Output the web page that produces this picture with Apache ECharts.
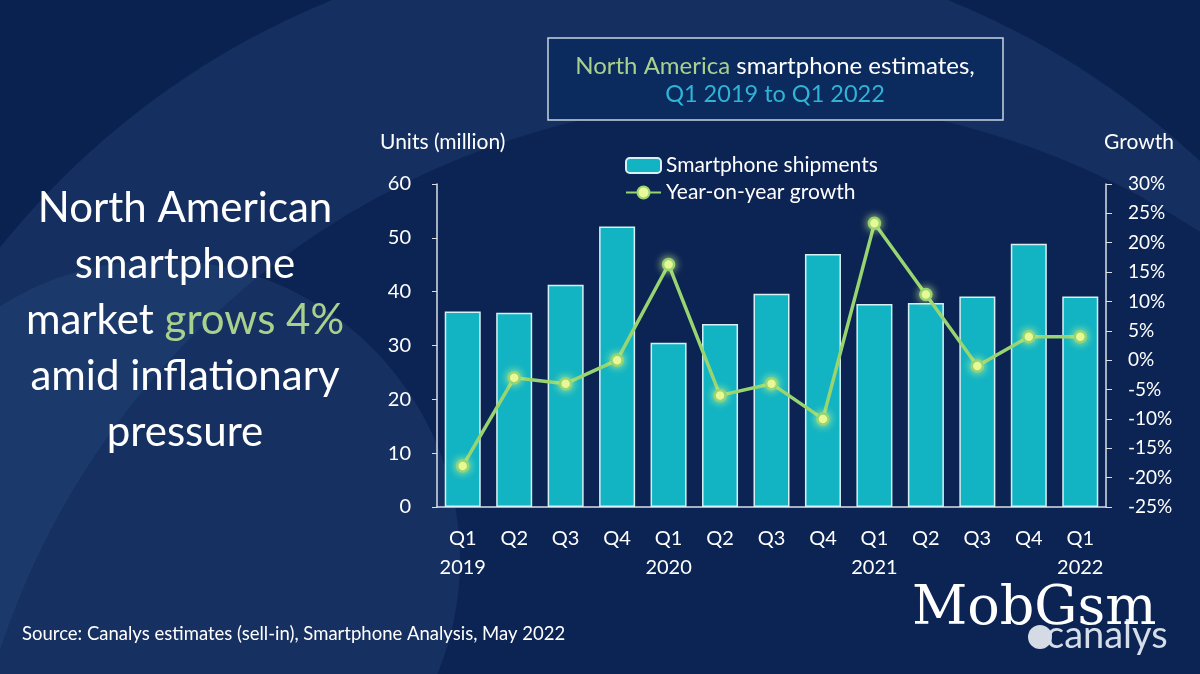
<!DOCTYPE html>
<html><head><meta charset="utf-8">
<script src="https://cdn.jsdelivr.net/npm/echarts@6/dist/echarts.min.js"></script>
<style>html,body{margin:0;padding:0;background:#0a2250;}#c{width:1200px;height:674px;}</style>
</head><body><div id="c"></div>
<script>
var quarters = ['Q1','Q2','Q3','Q4','Q1','Q2','Q3','Q4','Q1','Q2','Q3','Q4','Q1'];
var years    = ['2019','','','','2020','','','','2021','','','','2022'];
var shipments = [36.3, 36.1, 41.3, 52.1, 30.5, 34.0, 39.6, 47.0, 37.7, 37.9, 39.1, 48.9, 39.1];
var growth    = [-18, -3, -4, 0, 16.3, -6, -4, -10, 23.3, 11.2, -1, 4, 4];
var leftTicks = [0, 60, 10];
var rightTicks = [-25, 30, 5];

var FONT = 'Lato, "Open Sans", sans-serif';
var categories = quarters.map(function(q, i){ return years[i] ? q + '\n' + years[i] : q; });

var chart = echarts.init(document.getElementById('c'), null, {renderer: 'canvas'});
chart.setOption({
  backgroundColor: '#0a2250',
  textStyle: {fontFamily: FONT},
  graphic: [
    {type:'circle', z:-10, silent:true, shape:{cx:640, cy:760, r:820}, style:{fill:'rgba(60,100,160,0.20)'}},
    {type:'circle', z:-9, silent:true, shape:{cx:760, cy:900, r:800}, style:{fill:'rgba(10,34,80,0.75)'}},
    {type:'circle', z:-8, silent:true, shape:{cx:160, cy:560, r:300}, style:{fill:'rgba(70,110,170,0.16)'}},
    {type:'rect', z:5, shape:{x:548, y:38, width:455, height:82}, style:{fill:'#0b2a5e', stroke:'#c9d3e0', lineWidth:1.5}},
    {type:'text', z:6, style:{x:775, y:66, text:'{g|North America}{w| smartphone estimates,}', textAlign:'center', textVerticalAlign:'middle',
      rich:{g:{fill:'#a9d18e', fontSize:24, fontFamily:FONT}, w:{fill:'#ffffff', fontSize:24, fontFamily:FONT}}}},
    {type:'text', z:6, style:{x:775, y:94, text:'Q1 2019 to Q1 2022', fill:'#2fb4d6', fontSize:23.5, fontFamily:FONT, textAlign:'center', textVerticalAlign:'middle'}},
    {type:'text', z:6, style:{x:185, y:208, text:'North American', fill:'#ffffff', fontSize:42, fontFamily:FONT, textAlign:'center', textVerticalAlign:'middle'}},
    {type:'text', z:6, style:{x:185, y:264, text:'smartphone', fill:'#ffffff', fontSize:42, fontFamily:FONT, textAlign:'center', textVerticalAlign:'middle'}},
    {type:'text', z:6, style:{x:185, y:320, text:'{w|market }{g|grows 4%}', textAlign:'center', textVerticalAlign:'middle',
      rich:{w:{fill:'#ffffff', fontSize:42, fontFamily:FONT}, g:{fill:'#a9d18e', fontSize:42, fontFamily:FONT}}}},
    {type:'text', z:6, style:{x:185, y:376, text:'amid inflationary', fill:'#ffffff', fontSize:42, fontFamily:FONT, textAlign:'center', textVerticalAlign:'middle'}},
    {type:'text', z:6, style:{x:185, y:432, text:'pressure', fill:'#ffffff', fontSize:42, fontFamily:FONT, textAlign:'center', textVerticalAlign:'middle'}},
    {type:'text', z:6, style:{x:380, y:142, text:'Units (million)', fill:'#ffffff', fontSize:21, fontFamily:FONT, textVerticalAlign:'middle'}},
    {type:'text', z:6, style:{x:1104, y:142, text:'Growth', fill:'#ffffff', fontSize:21, fontFamily:FONT, textVerticalAlign:'middle'}},
    {type:'text', z:6, style:{x:22, y:634, text:'Source: Canalys estimates (sell-in), Smartphone Analysis, May 2022', fill:'#ffffff', fontSize:18.5, fontFamily:FONT, textVerticalAlign:'middle'}},
    {type:'circle', z:6, shape:{cx:1040, cy:637, r:12}, style:{fill:'rgba(235,240,245,0.9)'}},
    {type:'text', z:6, style:{x:1046, y:636, text:'canalys', fill:'#d5dde8', fontSize:38, fontFamily:FONT, textVerticalAlign:'middle'}},
    {type:'text', z:7, style:{x:912, y:610, text:'MobGsm', fill:'#ffffff', fontSize:54, fontFamily:'"DejaVu Serif", "Liberation Serif", serif', textVerticalAlign:'middle'}}
  ],
  legend: {
    orient: 'vertical', left: 620, top: 150, itemGap: 6,
    itemWidth: 35, itemHeight: 15,
    textStyle: {color:'#ffffff', fontSize:21, fontFamily:FONT},
    data: ['Smartphone shipments', 'Year-on-year growth']
  },
  grid: {left: 437, right: 94, top: 184, bottom: 167, containLabel: false},
  xAxis: {
    type: 'category', data: categories,
    axisLine: {lineStyle: {color:'#d9dee6', width:1.5}},
    axisTick: {show:false},
    axisLabel: {color:'#ffffff', fontSize:20, lineHeight:29, margin:17, fontFamily:FONT, interval:0}
  },
  yAxis: [
    {type:'value', min:leftTicks[0], max:leftTicks[1], interval:leftTicks[2],
     axisLine:{show:true, lineStyle:{color:'#d9dee6', width:1.5}},
     axisTick:{show:true, length:5, lineStyle:{color:'#d9dee6'}},
     splitLine:{show:false},
     axisLabel:{color:'#ffffff', fontSize:20, margin:26, fontFamily:FONT}},
    {type:'value', min:rightTicks[0], max:rightTicks[1], interval:rightTicks[2], position:'right',
     axisLine:{show:true, lineStyle:{color:'#d9dee6', width:1.5}},
     axisTick:{show:true, length:6, lineStyle:{color:'#d9dee6'}},
     splitLine:{show:false},
     axisLabel:{color:'#ffffff', fontSize:19, margin:22, fontFamily:FONT, formatter:'{value}%'}}
  ],
  series: [
    {name:'Smartphone shipments', type:'bar', data:shipments, barWidth:'70%',
     itemStyle:{color:'#12b4c4', borderColor:'#d6f0f4', borderWidth:1.5}},
    {name:'Year-on-year growth', type:'line', yAxisIndex:1, data:growth,
     symbol:'circle', symbolSize:11,
     lineStyle:{color:'#98d470', width:3.5},
     itemStyle:{color:'#eaf79a', borderColor:'#98d470', borderWidth:2.5, shadowBlur:8, shadowColor:'rgba(220,255,140,0.8)'},
     z:3}
  ]
});
</script></body></html>
